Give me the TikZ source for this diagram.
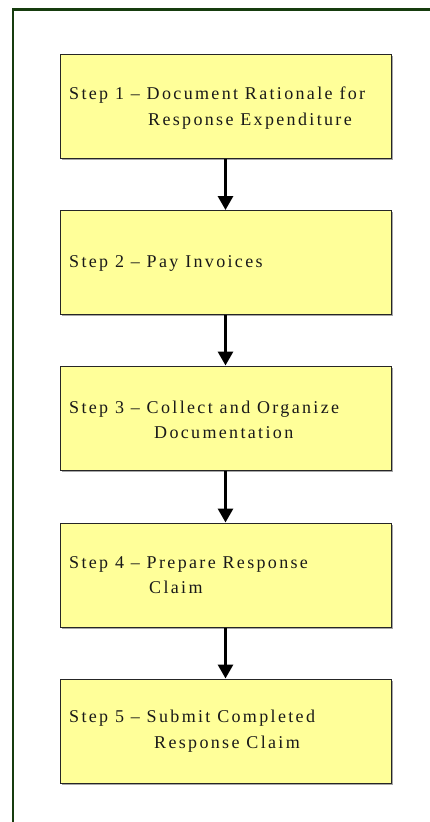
\documentclass[tikz,border=0pt]{standalone}
\usepackage{fontspec}
\setmainfont{Liberation Serif}
\newfontfamily\stepfont[LetterSpace=13]{Liberation Serif}
\usetikzlibrary{arrows.meta,shadows}
\definecolor{frameg}{RGB}{22,60,14}
\definecolor{boxy}{RGB}{255,255,153}
\begin{document}
\begin{tikzpicture}[x=1pt,y=-1pt,
  stepbox/.style={draw=black!85, line width=1pt, fill=boxy,
    minimum width=331pt, minimum height=104pt, inner sep=0pt,
    drop shadow={shadow xshift=1.5pt, shadow yshift=-1.5pt, fill=gray!70, opacity=1}},
  steptext/.style={anchor=west, align=left, inner sep=0pt, text=black!90,
    font=\stepfont\fontsize{18}{25.5}\selectfont},
  flow/.style={line width=3pt, -{Triangle[length=14pt,width=15pt]}}]
\useasboundingbox (0,0) rectangle (429,822);
\fill[white] (0,0) rectangle (429,822);
\draw[frameg, line width=2.2pt] (13,823) -- (13,9.5) -- (430,9.5);

\node[stepbox] (b1) at (225.5,106) {};
\node[stepbox] (b2) at (225.5,262.5) {};
\node[stepbox] (b3) at (225.5,418) {};
\node[stepbox] (b4) at (225.5,575) {};
\node[stepbox] (b5) at (225.5,731) {};

\node[steptext] (t1) at (69,108) {Step 1 – Document Rationale for\\\hspace*{79pt}Response Expenditure};
\node[steptext] (t2) at (69,263) {Step 2 – Pay Invoices};
\node[steptext] (t3) at (69,420) {Step 3 – Collect and Organize\\\hspace*{85pt}Documentation};
\node[steptext] (t4) at (69,575) {Step 4 – Prepare Response\\\hspace*{80pt}Claim};
\node[steptext] (t5) at (69,731) {Step 5 – Submit Completed\\\hspace*{85pt}Response Claim};

\draw[flow] (b1.south) -- (b2.north);
\draw[flow] (b2.south) -- (b3.north);
\draw[flow] (b3.south) -- (b4.north);
\draw[flow] (b4.south) -- (b5.north);
\end{tikzpicture}
\end{document}
